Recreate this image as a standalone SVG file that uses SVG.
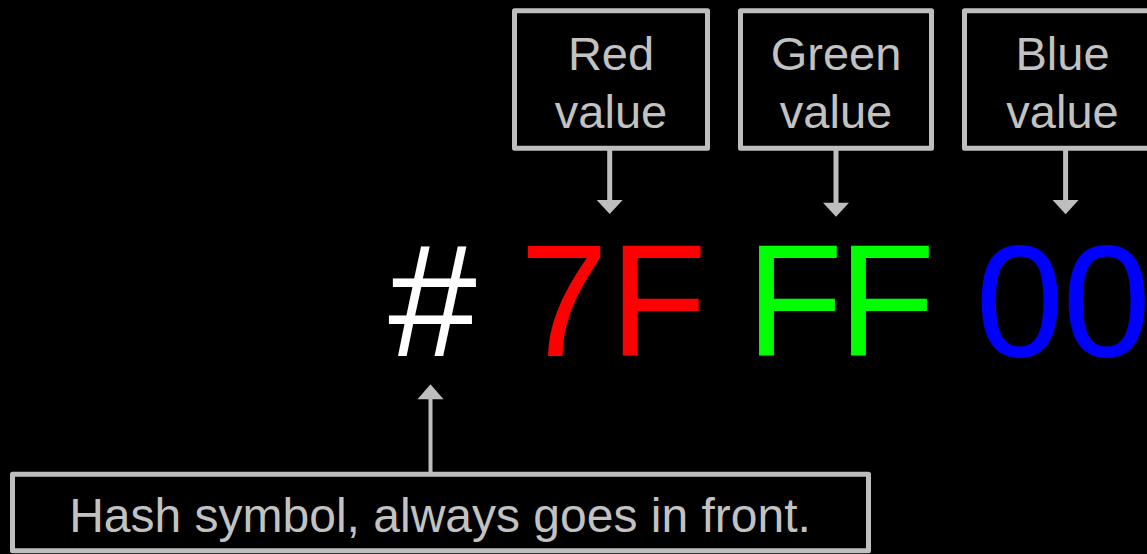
<svg xmlns="http://www.w3.org/2000/svg" width="1147" height="554" viewBox="0 0 1147 554">
<style>
.box{fill:#000;stroke:#bebebe;stroke-width:5;stroke-linejoin:round}
.lbl{font-family:"Liberation Sans",Arial,sans-serif;font-size:47px;fill:#c2c2c2;text-anchor:middle}
.big{font-family:"Liberation Sans",Arial,sans-serif;font-size:159px}
.shaft{stroke:#bebebe;stroke-width:5;fill:none}
.head{fill:#bebebe}
</style>
<rect x="0" y="0" width="1147" height="554" fill="#000"/>
<g id="red-box">
<rect class="box" x="514.5" y="10.8" width="193" height="137.4"/>
<text class="lbl" x="611" y="69.5">Red</text>
<text class="lbl" x="611" y="127.5">value</text>
</g>
<g id="green-box">
<rect class="box" x="740.5" y="10.8" width="191" height="137.4"/>
<text class="lbl" x="836" y="69.5">Green</text>
<text class="lbl" x="836" y="127.5">value</text>
</g>
<g id="blue-box">
<rect class="box" x="964.5" y="10.8" width="195" height="137.4"/>
<text class="lbl" x="1062.5" y="69.5">Blue</text>
<text class="lbl" x="1062.5" y="127.5">value</text>
</g>
<g id="hex-code">
<text class="big" x="388.3" y="356" fill="#ffffff">#</text>
<text class="big" y="356" fill="#ff0000"><tspan x="519.8">7</tspan><tspan x="609.7">F</tspan></text>
<text class="big" y="356" fill="#00ff00"><tspan x="746">F</tspan><tspan x="838">F</tspan></text>
<text class="big" y="356" fill="#0000ff"><tspan x="975.5">0</tspan><tspan x="1062.5">0</tspan></text>
</g>
<g id="hash-box">
<rect class="box" x="12.5" y="474.2" width="856" height="76.5"/>
<text class="lbl" x="440" y="531.7" style="font-size:48px">Hash symbol, always goes in front.</text>
</g>
<g id="connectors">
<line class="shaft" x1="609.7" y1="150" x2="609.7" y2="201"/>
<polygon class="head" points="596.7,200 622.7,200 609.7,214"/>
<line class="shaft" x1="836" y1="150" x2="836" y2="203.5"/>
<polygon class="head" points="823,202.7 849,202.7 836,216.7"/>
<line class="shaft" x1="1065.6" y1="150" x2="1065.6" y2="201"/>
<polygon class="head" points="1052.6,200 1078.6,200 1065.6,214.3"/>
<line class="shaft" style="stroke-width:4" x1="430.5" y1="398" x2="430.5" y2="472"/>
<polygon class="head" points="417.5,399.3 443.5,399.3 430.5,384.3"/>
</g>
</svg>
